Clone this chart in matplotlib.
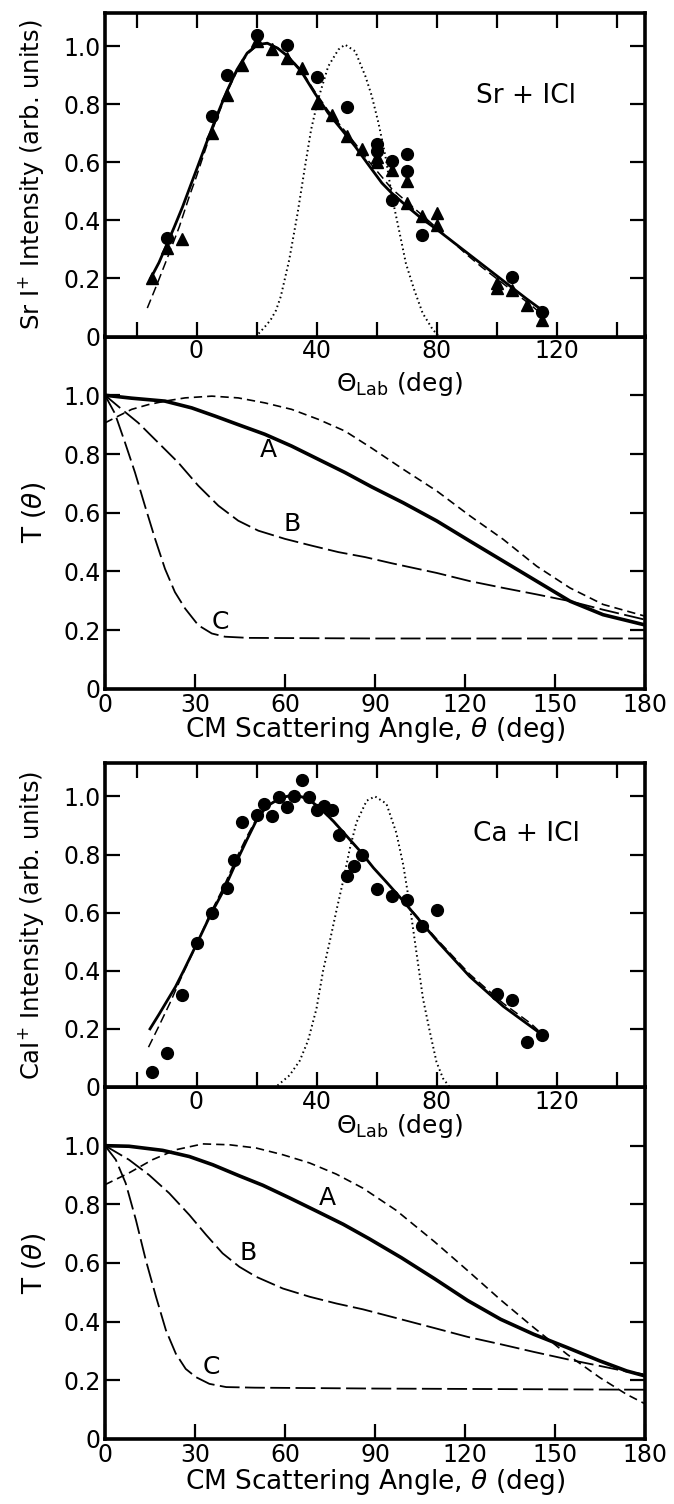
import sys

import matplotlib
matplotlib.use("Agg")
import matplotlib.pyplot as plt
from matplotlib.ticker import FixedLocator

# ---- Sr + ICl, lab frame (top panel) ----
sr_circ_x = [-10, 5, 10, 20, 30, 40, 50, 60, 60, 65, 70, 70, 65, 75, 105, 115]
sr_circ_y = [0.34, 0.76, 0.90, 1.04, 1.005, 0.895, 0.79, 0.665, 0.64, 0.605, 0.63, 0.57, 0.47, 0.35, 0.205, 0.085]
sr_tri_x = [-15, -10, -5, 5, 10, 15, 20, 25, 30, 35, 40, 45, 50, 55, 60, 60, 65, 70, 70, 75, 80, 80, 100, 100, 105, 110, 115]
sr_tri_y = [0.20, 0.305, 0.335, 0.70, 0.833, 0.935, 1.02, 0.99, 0.96, 0.925, 0.805, 0.765, 0.69, 0.645, 0.62, 0.60,
            0.575, 0.535, 0.46, 0.415, 0.425, 0.385, 0.183, 0.166, 0.16, 0.11, 0.058]
sr_fit_x = [-15.3, -12.5, -10.2, -7.5, -4.6, -2, 0, 3.3, 6.7, 10.1, 13.5, 16.9, 20.3, 23.6, 27, 30.4, 34.9, 39.4,
            43.9, 48.4, 52.9, 57.3, 61.8, 65, 70, 75, 80, 85, 90, 95, 100, 105, 110, 115, 117]
sr_fit_y = [0.20, 0.255, 0.31, 0.375, 0.448, 0.52, 0.575, 0.667, 0.759, 0.845, 0.92, 0.977, 1.006, 1.011, 0.994,
            0.966, 0.914, 0.839, 0.77, 0.713, 0.655, 0.592, 0.529, 0.495, 0.45, 0.407, 0.37, 0.33, 0.29, 0.25,
            0.21, 0.17, 0.13, 0.092, 0.08]
sr_dash_x = [-16.4, -13, -9.1, -5.7, -2.4, 0, 3.3, 6.7, 10.1, 13.5, 16.9, 20.3, 23.6, 27, 30.4, 34.9, 39.4, 43.9,
             48.4, 52.9, 57.3, 61.8, 65, 70, 75, 80, 85, 90, 95, 100, 105, 110, 116]
sr_dash_y = [0.098, 0.184, 0.287, 0.379, 0.483, 0.552, 0.655, 0.75, 0.84, 0.915, 0.973, 1.003, 1.01, 0.995, 0.968,
             0.918, 0.845, 0.778, 0.722, 0.665, 0.605, 0.55, 0.51, 0.465, 0.42, 0.375, 0.33, 0.283, 0.24, 0.20,
             0.16, 0.12, 0.07]
sr_beam_x = [20.7, 22.5, 24.7, 26.5, 28.1, 30.9, 33.7, 36, 38.2, 40.5, 43.9, 47.3, 49.5, 52.9, 56.3, 58.4, 60.7,
             63, 65.2, 67.5, 69.8, 72.6, 75.4, 78.8, 80.5]
sr_beam_y = [0.01, 0.03, 0.057, 0.09, 0.138, 0.264, 0.425, 0.575, 0.713, 0.816, 0.931, 0.989, 1.006, 0.983, 0.897,
             0.83, 0.734, 0.62, 0.48, 0.367, 0.252, 0.16, 0.08, 0.023, 0.005]

# ---- Sr + ICl, CM frame T(theta) ----
sr_a_x = [0, 8.9, 20, 28.9, 36.7, 44.4, 53.3, 62.2, 71.1, 80, 88.9, 99.4, 110.6, 121.7, 132.8, 143.9, 155, 166, 180]
sr_a_y = [1.0, 0.99, 0.98, 0.957, 0.929, 0.90, 0.867, 0.827, 0.782, 0.737, 0.688, 0.634, 0.572, 0.503, 0.435,
          0.367, 0.299, 0.253, 0.218]
sr_sd_x = [0, 4.4, 8.9, 14.4, 20, 26.7, 35.6, 44.4, 53.3, 62.2, 71.1, 80, 88.9, 99.4, 110.6, 121.7, 132.8, 143.9,
           155, 166, 180]
sr_sd_y = [0.906, 0.929, 0.952, 0.968, 0.98, 0.991, 0.997, 0.991, 0.974, 0.952, 0.918, 0.878, 0.82, 0.748, 0.674,
           0.589, 0.509, 0.418, 0.344, 0.288, 0.248]
sr_b_x = [0, 5.6, 11.1, 17.8, 24.4, 31.1, 37.8, 44.4, 51.1, 60, 68.9, 77.8, 86.7, 95.6, 110.6, 121.7, 132.8,
          143.9, 155, 166, 180]
sr_b_y = [1.0, 0.952, 0.906, 0.838, 0.771, 0.692, 0.624, 0.573, 0.539, 0.511, 0.488, 0.466, 0.449, 0.428, 0.395,
          0.367, 0.344, 0.322, 0.299, 0.27, 0.236]
sr_c_x = [0, 3.3, 6.7, 10, 13.3, 16.7, 20, 23.3, 26.7, 31.1, 35.6, 40, 47.8, 90, 135, 180]
sr_c_y = [1.0, 0.938, 0.838, 0.737, 0.624, 0.511, 0.409, 0.33, 0.274, 0.217, 0.189, 0.178, 0.174, 0.172, 0.172,
          0.172]

# ---- Ca + ICl, lab frame (top panel) ----
ca_circ_x = [-15, -10, -5, 0, 5, 10, 12.5, 15, 20, 22.5, 25, 27.5, 30, 32.5, 35, 37.5, 40, 42.5, 45, 47.5, 50,
             52.5, 55, 60, 65, 70, 75, 80, 100, 105, 110, 115]
ca_circ_y = [0.051, 0.118, 0.317, 0.497, 0.598, 0.686, 0.78, 0.912, 0.935, 0.974, 0.934, 0.997, 0.963, 1.002,
             1.057, 0.997, 0.954, 0.968, 0.954, 0.866, 0.726, 0.76, 0.80, 0.68, 0.657, 0.643, 0.553, 0.61, 0.32,
             0.298, 0.156, 0.18]
ca_fit_x = [-15.5, -12.5, -9.9, -7, -4.3, 0, 4.5, 8.9, 13.4, 16.8, 20.1, 23.4, 27.9, 32.3, 36.8, 41.2, 45.7, 50.1,
            54.6, 59, 63.5, 67.9, 80, 91.1, 102.2, 114.4]
ca_fit_y = [0.20, 0.25, 0.295, 0.345, 0.40, 0.491, 0.589, 0.674, 0.777, 0.851, 0.92, 0.966, 0.994, 1.006, 0.994,
            0.96, 0.914, 0.863, 0.811, 0.754, 0.703, 0.652, 0.505, 0.38, 0.278, 0.186]
ca_dash_x = [-16, -12.7, -8.8, -4.3, 0, 4.5, 8.9, 13.4, 16.8, 20.1, 23.4, 27.9, 32.3, 36.8, 41.2, 45.7, 50.1, 54.6,
             59, 63.5, 67.9, 80, 91.1, 102.2, 111.5, 113.9]
ca_dash_y = [0.137, 0.206, 0.29, 0.395, 0.49, 0.595, 0.685, 0.79, 0.862, 0.925, 0.968, 0.994, 1.004, 0.992, 0.958,
             0.912, 0.862, 0.81, 0.754, 0.703, 0.653, 0.51, 0.388, 0.288, 0.218, 0.195]
ca_beam_x = [27, 31, 34.4, 37.2, 40, 42.2, 44.4, 46.7, 48.9, 51.1, 53.3, 56.7, 59.5, 63.3, 66.6, 68.9, 71.1, 73.3,
             75.5, 77.8, 80, 82.2, 84.4]
ca_beam_y = [0.005, 0.04, 0.09, 0.16, 0.27, 0.40, 0.50, 0.61, 0.71, 0.82, 0.91, 0.985, 1.0, 0.975, 0.875, 0.765,
             0.625, 0.464, 0.304, 0.189, 0.086, 0.029, 0.0]

# ---- Ca + ICl, CM frame T(theta) ----
ca_a_x = [0, 8, 19.2, 28.1, 35.9, 44.8, 52.6, 61.5, 70.5, 79.4, 88, 98.8, 109.9, 120.9, 131.9, 142.9, 154, 165,
          173.9, 180]
ca_a_y = [1.0, 0.998, 0.984, 0.963, 0.935, 0.897, 0.865, 0.822, 0.777, 0.732, 0.683, 0.618, 0.546, 0.472, 0.408,
          0.357, 0.312, 0.266, 0.232, 0.215]
ca_sd_x = [0, 8, 15.8, 23.6, 32.6, 41.5, 50.4, 59.3, 68.2, 77.1, 86, 97, 109.9, 120.9, 131.9, 142.9, 154, 165,
           173.9, 180]
ca_sd_y = [0.867, 0.907, 0.952, 0.986, 1.006, 1.003, 0.992, 0.969, 0.941, 0.903, 0.855, 0.78, 0.672, 0.574, 0.474,
           0.38, 0.289, 0.209, 0.152, 0.12]
ca_b_x = [0, 8, 14.7, 21.4, 28.1, 33.7, 39.2, 44.8, 50.4, 59.3, 68.2, 77.1, 86, 96.1, 109.9, 120.9, 131.9, 142.9,
          154, 165, 173.9, 180]
ca_b_y = [1.0, 0.952, 0.90, 0.838, 0.764, 0.696, 0.633, 0.587, 0.553, 0.513, 0.485, 0.462, 0.442, 0.415, 0.378,
          0.348, 0.323, 0.297, 0.272, 0.249, 0.23, 0.22]
ca_c_x = [0, 3.6, 6.9, 10.3, 13.6, 17, 20.3, 23.6, 26.9, 30.3, 34.8, 40.4, 50, 90, 135, 180]
ca_c_y = [1.0, 0.952, 0.872, 0.747, 0.61, 0.485, 0.371, 0.291, 0.239, 0.211, 0.188, 0.177, 0.175, 0.172, 0.17,
          0.168]

LAB_MAJOR = [0, 40, 80, 120]
LAB_MINOR = [-20, 20, 60, 100, 140]
CM_TICKS = [0, 30, 60, 90, 120, 150, 180]
Y_TICKS = [0, 0.2, 0.4, 0.6, 0.8, 1.0]
Y_LABELS = ["0", "0.2", "0.4", "0.6", "0.8", "1.0"]

FS = 17


def style_axis(ax):
    for sp in ax.spines.values():
        sp.set_linewidth(2.6)
    ax.tick_params(which="both", direction="in", length=11, width=1.6,
                   top=True, right=True, labelsize=FS, pad=3)
    ax.set_yticks(Y_TICKS)
    ax.set_yticklabels(Y_LABELS)


def lab_panel(ax, label, name, circ, tri, fit, dash, beam, text_y, lab_y):
    style_axis(ax)
    ax.set_xlim(-30.5, 149.5)
    ax.set_ylim(0, 1.115)
    ax.xaxis.set_major_locator(FixedLocator(LAB_MAJOR))
    ax.xaxis.set_minor_locator(FixedLocator(LAB_MINOR))
    ax.tick_params(axis="x", which="both", labeltop=False, pad=2)
    ax.plot(*beam, color="black", lw=1.4, dashes=(0.8, 1.6))
    ax.plot(*dash, color="black", lw=1.1, dashes=(6, 3))
    ax.plot(*fit, color="black", lw=2.0)
    ax.plot(*circ, "o", color="black", ms=8.5)
    if tri is not None:
        ax.plot(*tri, "^", color="black", ms=9)
    ax.text(110, text_y, name, fontsize=FS + 2, ha="center", va="center")
    ax.set_ylabel(label, fontsize=17.5)
    ax.yaxis.set_label_coords(-0.11, 0.5)
    ax.set_xlabel(r"$\Theta_{\mathrm{Lab}}$ (deg)", fontsize=18, va="top")
    ax.xaxis.set_label_coords(0.545, lab_y)


def cm_panel(ax, a, sd, b, c, pos, cm_y):
    style_axis(ax)
    ax.patch.set_visible(False)
    ax.set_xlim(0, 180)
    ax.set_ylim(0, 1.2)
    ax.set_xticks(CM_TICKS)
    ax.tick_params(axis="x", top=False, pad=3)
    ax.plot(*sd, color="black", lw=1.2, dashes=(5, 3))
    ax.plot(*b, color="black", lw=1.3, dashes=(11, 3))
    ax.plot(*c, color="black", lw=1.3, dashes=(11, 3))
    ax.plot(*a, color="black", lw=2.6)
    for txt, (x, y) in zip("ABC", pos):
        ax.text(x, y, txt, fontsize=FS + 1, ha="center", va="center")
    ax.set_ylabel(r"T ($\theta$)", fontsize=19)
    ax.yaxis.set_label_coords(-0.105, 0.5)
    ax.set_xlabel(r"CM Scattering Angle, $\theta$ (deg)", fontsize=19, va="top")
    ax.xaxis.set_label_coords(0.5, cm_y)


def main() -> int:
    plt.rcParams["font.family"] = ["DejaVu Sans"]
    plt.rcParams["mathtext.fontset"] = "dejavusans"
    fig = plt.figure(figsize=(6.74, 15.04), dpi=100)

    W, H = 674, 1504
    left, width = 105 / W, 540 / W
    ax2 = fig.add_axes([left, 1 - 689 / H, width, 352.5 / H])
    ax1 = fig.add_axes([left, 1 - 336.5 / H, width, 323.5 / H])
    ax4 = fig.add_axes([left, 1 - 1439 / H, width, 352 / H])
    ax3 = fig.add_axes([left, 1 - 1087 / H, width, 324 / H])

    lab_panel(ax1, r"Sr I$^{+}$ Intensity (arb. units)", "Sr + ICl",
              (sr_circ_x, sr_circ_y), (sr_tri_x, sr_tri_y),
              (sr_fit_x, sr_fit_y), (sr_dash_x, sr_dash_y), (sr_beam_x, sr_beam_y),
              0.83, -0.105)
    cm_panel(ax2, (sr_a_x, sr_a_y), (sr_sd_x, sr_sd_y), (sr_b_x, sr_b_y),
             (sr_c_x, sr_c_y), [(54.5, 0.815), (62.5, 0.56), (38.5, 0.228)], -0.073)

    lab_panel(ax3, r"CaI$^{+}$ Intensity (arb. units)", "Ca + ICl",
              (ca_circ_x, ca_circ_y), None,
              (ca_fit_x, ca_fit_y), (ca_dash_x, ca_dash_y), (ca_beam_x, ca_beam_y),
              0.87, -0.077)
    cm_panel(ax4, (ca_a_x, ca_a_y), (ca_sd_x, ca_sd_y), (ca_b_x, ca_b_y),
             (ca_c_x, ca_c_y), [(74, 0.82), (47.6, 0.633), (35.3, 0.245)], -0.08)

    fig.savefig("out.png", dpi=100)
    return 0


if __name__ == "__main__":
    sys.exit(main())
